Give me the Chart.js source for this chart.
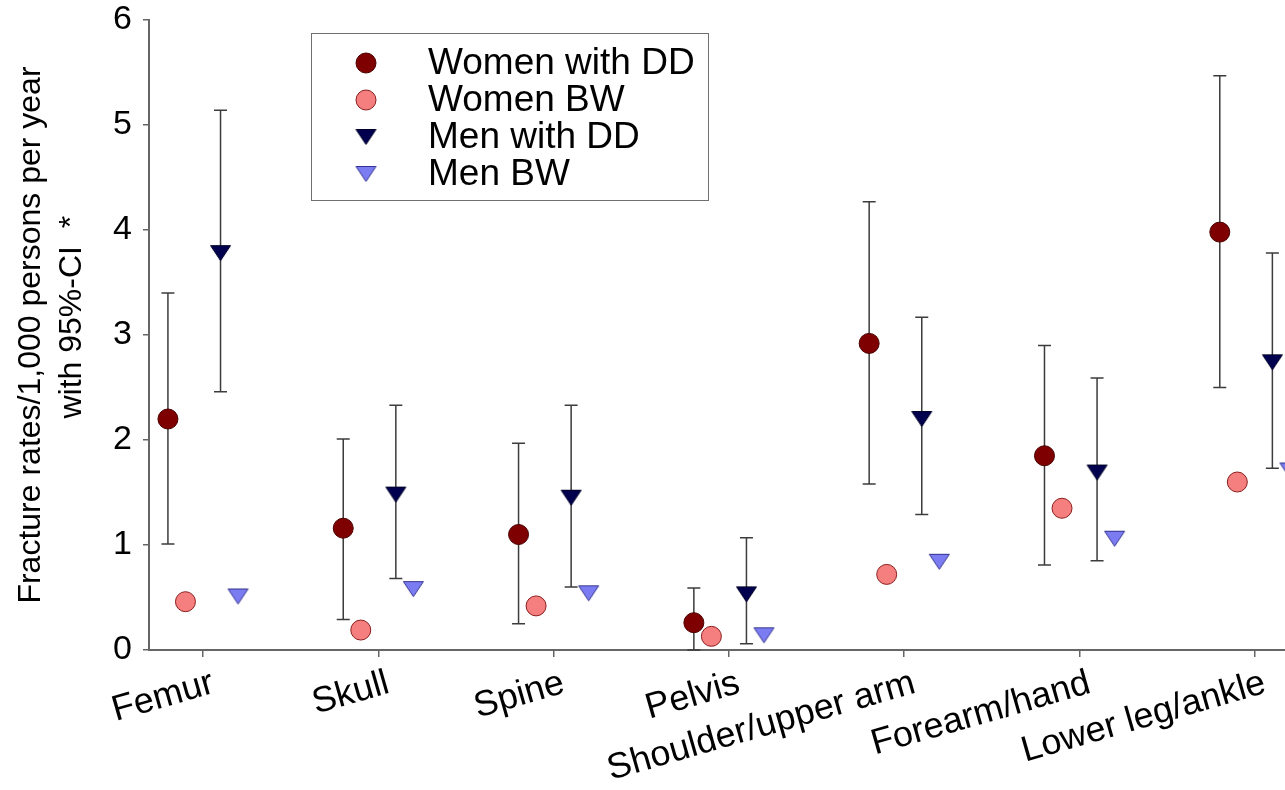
<!DOCTYPE html>
<html>
<head>
<meta charset="utf-8">
<title>Fracture rates by site</title>
<script src="https://cdn.jsdelivr.net/npm/chart.js@4/dist/chart.umd.min.js"></script>
<style>
  html, body { margin: 0; padding: 0; background: #fff; }
  #wrap { width: 1285px; height: 790px; }
  canvas { display: block; }
</style>
</head>
<body>
<div id="wrap"><canvas id="c" width="1285" height="790"></canvas></div>
<script>
// Fracture sites along the x axis
const categories = ['Femur', 'Skull', 'Spine', 'Pelvis', 'Shoulder/upper arm', 'Forearm/hand', 'Lower leg/ankle'];

// Rates per 1,000 persons per year
const womenDD     = [2.20, 1.16, 1.10, 0.26, 2.92, 1.85, 3.98];
const womenDDLow  = [1.01, 0.29, 0.25, 0.00, 1.58, 0.81, 2.50];
const womenDDHigh = [3.40, 2.01, 1.97, 0.59, 4.27, 2.90, 5.47];
const womenBW     = [0.46, 0.19, 0.42, 0.13, 0.72, 1.35, 1.60];
const menDD       = [3.78, 1.48, 1.45, 0.53, 2.20, 1.69, 2.74];
const menDDLow    = [2.46, 0.68, 0.60, 0.06, 1.29, 0.85, 1.73];
const menDDHigh   = [5.14, 2.33, 2.33, 1.07, 3.17, 2.59, 3.78];
const menBW       = [0.51, 0.58, 0.54, 0.14, 0.84, 1.06, 1.71];

// y axis tick values
const yTicks = [0, 1, 2, 3, 4, 5, 6];

const FONT = "'Liberation Sans', Arial, Helvetica, sans-serif";

// Downward-pointing triangle marker, centred on its bounding box
function downTriangle(fill, stroke) {
  const c = document.createElement('canvas');
  c.width = 23; c.height = 18;
  const g = c.getContext('2d');
  g.beginPath();
  g.moveTo(1.5, 1.5);
  g.lineTo(21.5, 1.5);
  g.lineTo(11.5, 16.5);
  g.closePath();
  g.fillStyle = fill;
  g.fill();
  g.lineWidth = 1;
  g.strokeStyle = stroke;
  g.stroke();
  return c;
}

function points(values, shift) {
  return values.map((v, i) => ({ x: i + shift, y: v }));
}

const series = [
  { label: 'Women with DD', values: womenDD, low: womenDDLow, high: womenDDHigh, shift: -0.2,
    style: 'circle', fill: '#7e0000', stroke: '#4a0000' },
  { label: 'Women BW', values: womenBW, shift: -0.1,
    style: 'circle', fill: '#f57f7f', stroke: '#8a1d1d' },
  { label: 'Men with DD', values: menDD, low: menDDLow, high: menDDHigh, shift: 0.1,
    style: downTriangle('#00004e', '#000028'), fill: '#00004e', stroke: '#000028' },
  { label: 'Men BW', values: menBW, shift: 0.2,
    style: downTriangle('#7b7bf2', '#33338f'), fill: '#7b7bf2', stroke: '#33338f' }
];

const datasets = series.map(s => ({
  label: s.label,
  data: points(s.values, s.shift),
  errLow: s.low ? points(s.low, s.shift) : null,
  errHigh: s.high ? points(s.high, s.shift) : null,
  pointStyle: s.style,
  pointRadius: 10,
  pointHoverRadius: 10,
  backgroundColor: s.fill,
  borderColor: s.stroke,
  pointBorderWidth: 1,
  showLine: false,
  clip: false
}));

// Vertical 95%-CI whiskers with caps, drawn beneath the markers
const errorBars = {
  id: 'errorBars',
  beforeDatasetsDraw(chart) {
    const { ctx, scales: { x, y } } = chart;
    ctx.save();
    ctx.strokeStyle = '#3c3c3c';
    ctx.lineWidth = 1.5;
    chart.data.datasets.forEach(ds => {
      if (!ds.errLow) return;
      ds.errLow.forEach((lo, i) => {
        const hi = ds.errHigh[i];
        const px = x.getPixelForValue(lo.x);
        const y1 = y.getPixelForValue(lo.y);
        const y2 = y.getPixelForValue(hi.y);
        const cap = 6.5;
        ctx.beginPath();
        ctx.moveTo(px, y1); ctx.lineTo(px, y2);
        ctx.moveTo(px - cap, y1); ctx.lineTo(px + cap, y1);
        ctx.moveTo(px - cap, y2); ctx.lineTo(px + cap, y2);
        ctx.stroke();
      });
    });
    ctx.restore();
  }
};

// Boxed legend inside the plot area
const boxLegend = {
  id: 'boxLegend',
  afterDraw(chart) {
    const ctx = chart.ctx;
    const box = { x: 311.5, y: 33.5, w: 397, h: 167 };
    ctx.save();
    ctx.fillStyle = '#fff';
    ctx.fillRect(box.x, box.y, box.w, box.h);
    ctx.strokeStyle = '#707070';
    ctx.lineWidth = 1;
    ctx.strokeRect(box.x, box.y, box.w, box.h);
    ctx.font = '37px ' + FONT;
    ctx.textBaseline = 'middle';
    ctx.textAlign = 'left';
    chart.data.datasets.forEach((ds, i) => {
      const cy = 63 + i * 37;
      if (ds.pointStyle === 'circle') {
        ctx.fillStyle = ds.backgroundColor;
        ctx.strokeStyle = ds.borderColor;
        ctx.lineWidth = 1;
        ctx.beginPath();
        ctx.arc(366, cy, 10, 0, Math.PI * 2);
        ctx.fill();
        ctx.stroke();
      } else {
        Chart.helpers.drawPoint(ctx, {
          pointStyle: ds.pointStyle, radius: 10, borderWidth: 1, rotation: 0
        }, 366, cy);
      }
      ctx.fillStyle = '#000';
      ctx.fillText(ds.label, 428, cy + 1);
    });
    ctx.restore();
  }
};

new Chart(document.getElementById('c'), {
  type: 'scatter',
  data: { datasets },
  plugins: [errorBars, boxLegend],
  options: {
    responsive: false,
    animation: false,
    events: [],
    layout: { autoPadding: false, padding: { top: 20, right: 0, left: 0, bottom: 0 } },
    plugins: { legend: { display: false }, tooltip: { enabled: false } },
    scales: {
      x: {
        type: 'linear',
        min: -0.308,
        max: 6.172,
        afterBuildTicks(scale) {
          scale.ticks = categories.map((c, i) => ({ value: i }));
        },
        afterFit(scale) {
          scale.height = 140;
          scale.paddingLeft = 0;
          scale.paddingRight = 0;
        },
        grid: { drawOnChartArea: false, drawTicks: true, tickLength: 7, color: '#666', lineWidth: 1.5 },
        border: { display: true, color: '#666', width: 2 },
        ticks: {
          autoSkip: false,
          minRotation: 16,
          maxRotation: 16,
          padding: 5,
          labelOffset: 10,
          color: '#000',
          font: { family: FONT, size: 36 },
          callback: (v) => categories[v]
        }
      },
      y: {
        min: 0,
        max: 6,
        afterBuildTicks(scale) {
          scale.ticks = yTicks.map(v => ({ value: v }));
        },
        afterFit(scale) {
          scale.width = 149;
          scale.paddingTop = 0;
          scale.paddingBottom = 0;
        },
        grid: { drawOnChartArea: false, drawTicks: true, tickLength: 6, color: '#666', lineWidth: 1.5 },
        border: { display: true, color: '#666', width: 2 },
        ticks: {
          padding: 11,
          color: '#000',
          font: { family: FONT, size: 34 }
        },
        title: {
          display: true,
          text: ['Fracture rates/1,000 persons per year', '    with 95%-CI  *'],
          color: '#000',
          font: { family: FONT, size: 32, lineHeight: 1.27 },
          padding: { top: 11, bottom: 0 }
        }
      }
    }
  }
});
</script>
</body>
</html>
